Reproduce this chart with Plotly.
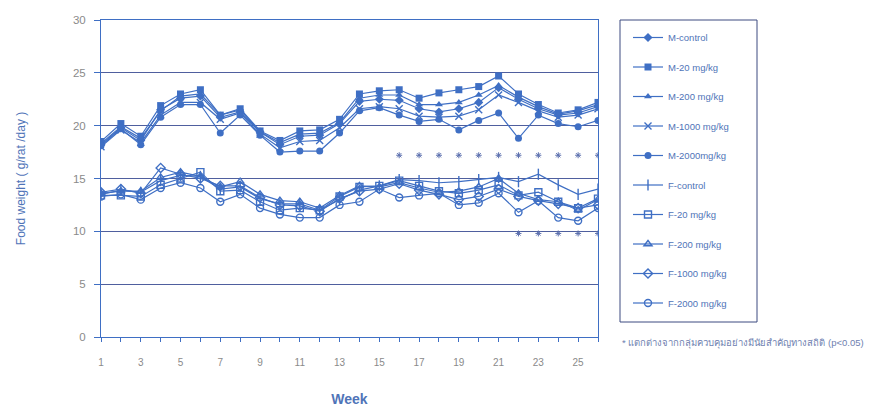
import plotly.graph_objects as go

# Weekly food consumption (g/rat/day) for male (M) and female (F) groups
weeks = list(range(1, 27))

m_control = [18.2, 19.8, 18.6, 21.5, 22.6, 22.8, 20.8, 21.3, 19.4, 18.2, 19.0, 19.1, 20.2,
             22.3, 22.5, 22.4, 21.6, 21.3, 21.6, 22.2, 23.6, 22.5, 21.6, 21.0, 21.2, 21.8]
m_20 = [18.5, 20.2, 19.0, 21.9, 23.0, 23.4, 21.0, 21.6, 19.5, 18.6, 19.5, 19.6, 20.6,
        23.0, 23.3, 23.4, 22.6, 23.1, 23.4, 23.7, 24.7, 23.0, 22.0, 21.2, 21.5, 22.2]
m_200 = [18.3, 19.9, 18.8, 21.4, 22.8, 23.0, 21.0, 21.5, 19.4, 18.4, 19.2, 19.3, 20.3,
         22.6, 22.9, 22.9, 22.0, 22.0, 22.2, 22.9, 23.8, 22.7, 21.8, 21.1, 21.4, 22.0]
m_1000 = [18.0, 19.6, 18.4, 21.0, 22.2, 22.2, 20.6, 21.2, 19.2, 17.9, 18.5, 18.6, 19.8,
          21.6, 21.8, 21.6, 20.9, 20.8, 20.9, 21.5, 22.9, 22.2, 21.4, 20.8, 21.0, 21.6]
m_2000 = [18.1, 19.7, 18.2, 20.8, 22.0, 22.0, 19.3, 21.0, 19.1, 17.5, 17.6, 17.6, 19.3,
          21.4, 21.7, 21.0, 20.4, 20.6, 19.6, 20.5, 21.2, 18.8, 21.0, 20.2, 19.9, 20.5]

f_control = [13.5, 13.9, 13.7, 14.8, 15.3, 15.2, 14.0, 14.2, 13.1, 12.6, 12.6, 12.0, 13.0,
             13.9, 14.3, 14.9, 14.8, 14.6, 14.7, 14.9, 15.1, 14.7, 15.4, 14.4, 13.5, 14.0]
f_20 = [13.4, 13.4, 13.3, 14.4, 15.0, 15.6, 13.8, 13.9, 12.8, 12.0, 12.2, 12.0, 13.3,
        14.2, 14.3, 14.8, 14.3, 13.8, 13.6, 13.9, 14.4, 13.4, 13.7, 12.8, 12.2, 13.1]
f_200 = [13.6, 13.8, 13.8, 15.1, 15.6, 15.2, 14.2, 14.7, 13.5, 12.9, 12.8, 12.2, 13.4,
         14.3, 14.2, 14.6, 14.1, 13.7, 13.8, 14.2, 15.0, 13.6, 13.0, 12.8, 12.0, 13.0]
f_1000 = [13.7, 14.0, 13.6, 16.0, 15.4, 15.0, 14.3, 14.3, 13.2, 12.5, 12.4, 11.9, 13.1,
          13.8, 14.0, 14.5, 13.9, 13.5, 13.0, 13.3, 14.0, 13.3, 12.9, 12.6, 12.2, 12.5]
f_2000 = [13.3, 13.5, 13.0, 14.1, 14.6, 14.1, 12.8, 13.5, 12.2, 11.6, 11.3, 11.3, 12.5,
          12.8, 14.0, 13.2, 13.4, 13.6, 12.5, 12.7, 13.6, 11.8, 12.9, 11.3, 11.0, 12.2]

series_names = ["M-control", "M-20 mg/kg", "M-200 mg/kg", "M-1000 mg/kg", "M-2000mg/kg",
                "F-control", "F-20 mg/kg", "F-200 mg/kg", "F-1000 mg/kg", "F-2000 mg/kg"]
series_values = [m_control, m_20, m_200, m_1000, m_2000,
                 f_control, f_20, f_200, f_1000, f_2000]

# Significance markers (p<0.05) for the male and female groups
sig_m_weeks = [16, 17, 18, 19, 20, 21, 22, 23, 24, 25, 26]
sig_m_level = 17.2
sig_f_weeks = [22, 23, 24, 25, 26]
sig_f_level = 9.8

x_tick_vals = list(range(1, 27))
x_tick_text = [str(w) if w % 2 == 1 else "" for w in x_tick_vals]
y_tick_vals = [0, 5, 10, 15, 20, 25, 30]

BLUE = "#3f6fc4"
GRID = "#4f5f9e"
TEXT = "#4f74b8"

# Plot-area geometry in pixels, used to place the legend frame and the footnote
W, H = 877, 416
L, R, T, B = 101, 279, 20, 79
PW, PH = W - L - R, H - T - B


def px_x(p):
    return (p - L) / PW


def px_y(p):
    return (H - B - p) / PH


symbols = ["diamond", "square", "triangle-up", "x-thin", "circle",
           "line-ns", "square-open", "triangle-up-open", "diamond-open", "circle-open"]
sizes = [7, 7, 7, 7, 7, 8, 7, 7, 7, 7]

fig = go.Figure()
for i, (name, vals) in enumerate(zip(series_names, series_values)):
    sym = symbols[i]
    open_like = sym.endswith("open") or sym in ("x-thin", "line-ns")
    fig.add_trace(go.Scatter(
        x=weeks, y=vals, name=name, mode="lines+markers",
        legendgroup=f"g{i}",
        line=dict(color=BLUE, width=1.2),
        marker=dict(symbol=sym, size=sizes[i], color=BLUE,
                    line=dict(color=BLUE, width=1.4 if open_like else 0)),
    ))

for wk, lvl in ((sig_m_weeks, sig_m_level), (sig_f_weeks, sig_f_level)):
    fig.add_trace(go.Scatter(
        x=wk, y=[lvl] * len(wk), mode="markers", showlegend=False, hoverinfo="skip",
        marker=dict(symbol="asterisk", size=5, color="#5b6fae",
                    line=dict(color="#5b6fae", width=1)),
    ))

fig.update_layout(
    width=W, height=H,
    margin=dict(l=L, r=R, t=T, b=B),
    paper_bgcolor="white", plot_bgcolor="white",
    font=dict(family="Arial, Liberation Sans, sans-serif", color=TEXT),
    showlegend=True,
    legend=dict(
        xref="container", yref="container",
        x=628 / W, y=1 - 23 / H, xanchor="left", yanchor="top",
        borderwidth=0, bgcolor="rgba(0,0,0,0)",
        font=dict(size=9.5, color=TEXT),
        tracegroupgap=10.5, maxheight=330,
    ),
    xaxis=dict(
        range=[1, 26], tickmode="array", tickvals=x_tick_vals, ticktext=x_tick_text,
        ticks="outside", ticklen=4, tickcolor=BLUE, tickwidth=1,
        showline=True, linecolor=BLUE, linewidth=1, mirror=True,
        showgrid=False, zeroline=False,
        tickfont=dict(size=10, color="#8a8a8a"), ticklabelstandoff=12,
        title=dict(text="<b>Week</b>", font=dict(size=14, color=TEXT), standoff=27),
    ),
    yaxis=dict(
        range=[0, 30], tickmode="array", tickvals=y_tick_vals,
        ticks="outside", ticklen=6, tickcolor=BLUE, tickwidth=1,
        showline=True, linecolor=BLUE, linewidth=1, mirror=True,
        showgrid=True, gridcolor=GRID, gridwidth=1.3, zeroline=False,
        tickfont=dict(size=11.5, color="#8a8a8a"), ticklabelstandoff=6,
        title=dict(text="Food weight ( g/rat /day )", font=dict(size=12, color=TEXT), standoff=44),
    ),
)

# Legend frame
fig.add_shape(
    type="rect", xref="paper", yref="paper",
    x0=px_x(620), x1=px_x(757), y0=px_y(322), y1=px_y(20),
    line=dict(color="#3c4a80", width=1), fillcolor="rgba(0,0,0,0)", layer="above",
)

fig.add_annotation(
    xref="paper", yref="paper", x=px_x(620), y=px_y(343),
    xanchor="left", yanchor="middle", showarrow=False,
    text="* แตกต่างจากกลุ่มควบคุมอย่างมีนัยสำคัญทางสถิติ (p<0.05)",
    font=dict(size=9.5, color="#6f7fb0"),
)

fig.write_html("out.html")
